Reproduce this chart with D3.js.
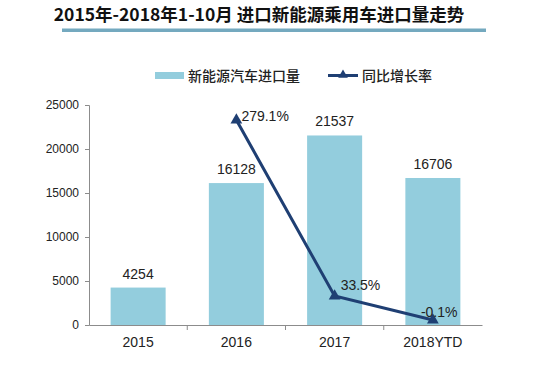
<!DOCTYPE html>
<html><head><meta charset="utf-8">
<script src="https://cdn.jsdelivr.net/npm/d3@7"></script>
<style>body{margin:0;background:#fff}</style>
</head><body><svg id="c" width="550" height="366"></svg>
<script>
const categories = ["2015", "2016", "2017", "2018YTD"];
const imports = [4254, 16128, 21537, 16706];
const growth = [null, 279.1, 33.5, -0.1];
const growthLabels = ["", "279.1%", "33.5%", "-0.1%"];
const yTicks = [0, 5000, 10000, 15000, 20000, 25000];
const title = "2015年-2018年1-10月 进口新能源乘用车进口量走势";
const legendNames = ["新能源汽车进口量", "同比增长率"];

const svg = d3.select("#c");
const font = "'Liberation Sans', Arial, 'Noto Sans CJK SC', sans-serif";
const cjk = "'Noto Sans CJK SC', sans-serif";
const barColor = "#93cddd", lineColor = "#1f3f73", axisColor = "#8c8c8c";

// title
svg.append("text").attr("x", 259).attr("y", 21).attr("text-anchor", "middle")
  .attr("font-family", cjk).attr("font-weight", "bold").attr("font-size", 17.5)
  .attr("fill", "#111").text(title);
svg.append("rect").attr("x", 62).attr("y", 28.5).attr("width", 424).attr("height", 3.5)
  .attr("fill", "#74a9bf");

const x = d3.scaleBand().domain(categories).range([89, 482]).paddingInner(0.44).paddingOuter(0.22);
const xb = d3.scaleBand().domain(categories).range([89, 482]);
const y = d3.scaleLinear().domain([0, 25000]).range([325, 105]);
const y2 = d3.scaleLinear().domain([-7, 300]).range([325, 105]);

// y axis
const ya = svg.append("g").attr("transform", "translate(89,0)")
  .call(d3.axisLeft(y).tickValues(yTicks).tickSize(4).tickPadding(6).tickFormat(d3.format("d")));
ya.select(".domain").attr("stroke", axisColor);
ya.selectAll(".tick line").attr("stroke", axisColor);
ya.selectAll("text").attr("font-family", font).attr("font-size", 12).attr("fill", "#222");

// bars
svg.selectAll("rect.bar").data(imports).enter().append("rect").attr("class", "bar")
  .attr("x", (d, i) => x(categories[i])).attr("width", x.bandwidth())
  .attr("y", d => y(d)).attr("height", d => y(0) - y(d)).attr("fill", barColor);

svg.selectAll("text.bl").data(imports).enter().append("text").attr("class", "bl")
  .attr("x", (d, i) => x(categories[i]) + x.bandwidth() / 2).attr("y", d => y(d) - 9)
  .attr("text-anchor", "middle").attr("font-family", font).attr("font-size", 14)
  .attr("fill", "#222").text(d => d);

// x axis
const xa = svg.append("g").attr("transform", "translate(0,325)")
  .call(d3.axisBottom(xb).tickSize(0).tickPadding(12));
xa.select(".domain").attr("stroke", axisColor);
xa.selectAll("text").attr("font-family", font).attr("font-size", 14).attr("fill", "#222");
const bounds = categories.slice(1).map(c => xb(c));
svg.selectAll("line.xt").data(bounds).enter().append("line").attr("class", "xt")
  .attr("x1", d => d).attr("x2", d => d).attr("y1", 325).attr("y2", 330)
  .attr("stroke", axisColor);

// growth line
const pts = growth.map((g, i) => ({ g, i })).filter(p => p.g !== null);
const cx = i => xb(categories[i]) + xb.bandwidth() / 2;
svg.append("path").datum(pts)
  .attr("d", d3.line().x(p => cx(p.i)).y(p => y2(p.g)))
  .attr("fill", "none").attr("stroke", lineColor).attr("stroke-width", 3);
const tri = d3.symbol().type(d3.symbolTriangle).size(60);
svg.selectAll("path.m").data(pts).enter().append("path").attr("class", "m")
  .attr("d", tri).attr("transform", p => `translate(${cx(p.i)},${y2(p.g)})`)
  .attr("fill", lineColor);
const off = { 1: [5, 1], 2: [6, -6], 3: [-12, -3] };
svg.selectAll("text.gl").data(pts).enter().append("text").attr("class", "gl")
  .attr("x", p => cx(p.i) + off[p.i][0]).attr("y", p => y2(p.g) + off[p.i][1])
  .attr("font-family", font).attr("font-size", 14).attr("fill", "#222")
  .text(p => growthLabels[p.i]);

// legend
svg.append("rect").attr("x", 155).attr("y", 72).attr("width", 29).attr("height", 7).attr("fill", barColor);
svg.append("text").attr("x", 188).attr("y", 81).attr("font-family", cjk).attr("font-size", 14)
  .attr("font-weight", 500).attr("fill", "#222").text(legendNames[0]);
svg.append("line").attr("x1", 328).attr("x2", 358).attr("y1", 75.5).attr("y2", 75.5)
  .attr("stroke", lineColor).attr("stroke-width", 3);
svg.append("path").attr("d", d3.symbol().type(d3.symbolTriangle).size(40))
  .attr("transform", "translate(343,75)").attr("fill", lineColor);
svg.append("text").attr("x", 362).attr("y", 81).attr("font-family", cjk).attr("font-size", 14)
  .attr("font-weight", 500).attr("fill", "#222").text(legendNames[1]);
</script></body></html>
